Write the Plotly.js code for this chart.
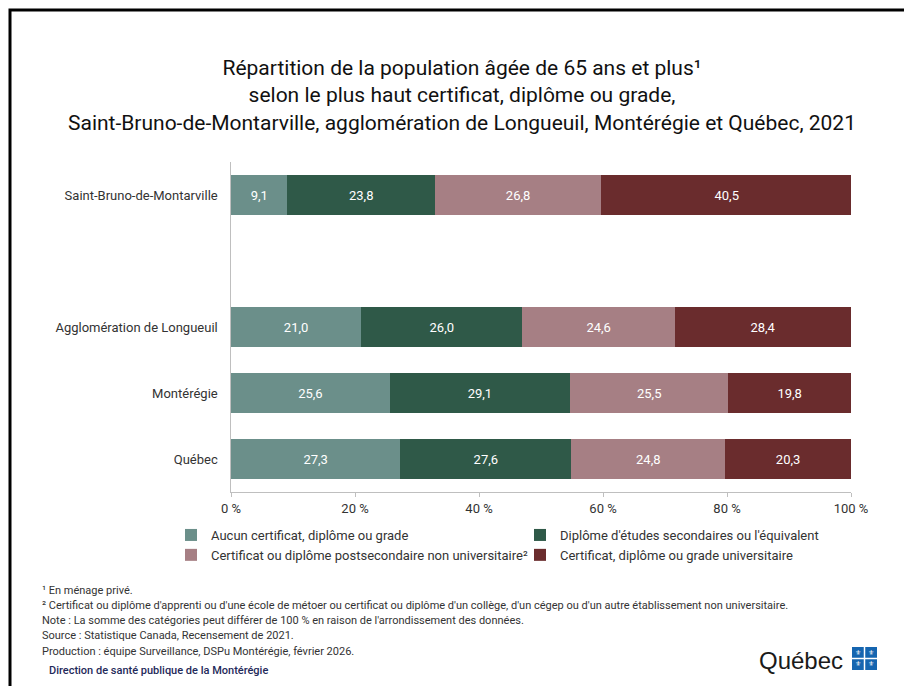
<!DOCTYPE html>
<html>
<head>
<meta charset="utf-8">
<script src="https://cdn.plot.ly/plotly-3.0.1.min.js"></script>
<style>
html,body{margin:0;padding:0;background:#fff;}
#chart{width:904px;height:686px;}
</style>
</head>
<body>
<div id="chart"></div>
<script>
// ---- data ----
const categories = ['Saint-Bruno-de-Montarville', ' ', 'Agglomération de Longueuil', 'Montérégie', 'Québec'];
const regions = ['Saint-Bruno-de-Montarville', 'Agglomération de Longueuil', 'Montérégie', 'Québec'];
const seriesNames = [
  'Aucun certificat, diplôme ou grade',
  "Diplôme d'études secondaires ou l'équivalent",
  'Certificat ou diplôme postsecondaire non universitaire²',
  'Certificat, diplôme ou grade universitaire'
];
const aucun       = [9.1, 21.0, 25.6, 27.3];
const secondaire  = [23.8, 26.0, 29.1, 27.6];
const postsec     = [26.8, 24.6, 25.5, 24.8];
const universite  = [40.5, 28.4, 19.8, 20.3];
const tickVals = [0, 20, 40, 60, 80, 100];
const colors = ['#6B8F8A', '#2F5948', '#A67F84', '#6A2C2D'];

const footnotes = [
  '¹ En ménage privé.',
  "² Certificat ou diplôme d'apprenti ou d'une école de métoer ou certificat ou diplôme d'un collège, d'un cégep ou d'un autre établissement non universitaire.",
  "Note : La somme des catégories peut différer de 100 % en raison de l'arrondissement des données.",
  'Source : Statistique Canada, Recensement de 2021.',
  'Production : équipe Surveillance, DSPu Montérégie, février 2026.'
];

// ---- layout helpers (pixel -> paper) ----
const W = 904, H = 686;
const L = 231, R = 851, T = 162, B = 492;
const px = x => (x - L) / (R - L);
const py = y => (B - y) / (B - T);

const allSeries = [aucun, secondaire, postsec, universite];
const traces = allSeries.map((vals, i) => ({
  type: 'bar',
  orientation: 'h',
  name: seriesNames[i],
  y: regions,
  x: vals,
  marker: {color: colors[i], line: {width: 0}},
  text: vals,
  texttemplate: '%{x:.1f}',
  textposition: 'inside',
  insidetextanchor: 'middle',
  constraintext: 'none',
  textfont: {color: '#ffffff', size: 13, family: 'Roboto, Liberation Sans, sans-serif'},
  hoverinfo: 'none'
}));

const annotations = footnotes.map((t, i) => ({
  text: t, xref: 'paper', yref: 'paper',
  x: px(40), y: py(590 + i * 15.3),
  xanchor: 'left', yanchor: 'middle', showarrow: false,
  font: {size: 11, color: '#333333', family: 'Roboto, Liberation Sans, sans-serif'}
}));
annotations.push({
  text: 'Direction de santé publique de la Montérégie', xref: 'paper', yref: 'paper',
  x: px(47), y: py(670), xanchor: 'left', yanchor: 'middle', showarrow: false,
  font: {size: 11, color: '#1F2A5A', family: 'Roboto, Liberation Sans, sans-serif', weight: 500}
});
annotations.push({
  text: 'Québec', xref: 'paper', yref: 'paper',
  x: px(757), y: py(660), xanchor: 'left', yanchor: 'middle', showarrow: false,
  font: {size: 24, color: '#1a1a1a', family: 'Liberation Sans, Arial, sans-serif'}
});
// fleur-de-lis glyphs
[[858, 653], [871, 653], [858, 664], [871, 664]].forEach(p => annotations.push({
  text: '⚜', xref: 'paper', yref: 'paper', x: px(p[0]), y: py(p[1]),
  xanchor: 'center', yanchor: 'middle', showarrow: false,
  font: {size: 7, color: '#ffffff', family: 'DejaVu Sans'}
}));

const shapes = [
  // frame
  {type: 'path', xref: 'paper', yref: 'paper',
   path: `M ${px(10)},${py(700)} L ${px(10)},${py(10)} L ${px(920)},${py(10)}`,
   line: {color: '#000000', width: 3}},
  // Québec flag
  {type: 'rect', xref: 'paper', yref: 'paper', x0: px(852), x1: px(877), y0: py(670), y1: py(647),
   fillcolor: '#1565B0', line: {width: 0}},
  {type: 'line', xref: 'paper', yref: 'paper', x0: px(864.5), x1: px(864.5), y0: py(670), y1: py(647),
   line: {color: '#ffffff', width: 1.5}},
  {type: 'line', xref: 'paper', yref: 'paper', x0: px(852), x1: px(877), y0: py(658.5), y1: py(658.5),
   line: {color: '#ffffff', width: 1.5}}
];

const layout = {
  width: W, height: H,
  margin: {l: L, r: W - R, t: T, b: H - B, pad: 0},
  paper_bgcolor: '#ffffff', plot_bgcolor: '#ffffff',
  separators: ', ',
  barmode: 'stack',
  bargap: 0.39,
  font: {family: 'Roboto, Liberation Sans, sans-serif', color: '#333333', size: 13},
  title: {
    text: 'Répartition de la population âgée de 65 ans et plus¹<br>selon le plus haut certificat, diplôme ou grade,<br>Saint-Bruno-de-Montarville, agglomération de Longueuil, Montérégie et Québec, 2021',
    x: 462 / W, xref: 'container', xanchor: 'center',
    y: 1 - 75 / H, yref: 'container', yanchor: 'top',
    font: {size: 21, color: '#111111', family: 'Roboto, Liberation Sans, sans-serif'}
  },
  xaxis: {
    range: [0, 100], tickvals: tickVals, ticktext: tickVals.map(v => v + ' %'),
    showgrid: false, zeroline: false, showline: true, linecolor: '#BFBFBF', linewidth: 1,
    ticks: 'outside', ticklen: 4, tickcolor: '#BFBFBF',
    tickfont: {size: 13, color: '#333333'}, fixedrange: true
  },
  yaxis: {
    type: 'category', categoryorder: 'array', categoryarray: categories,
    autorange: 'reversed', showgrid: false, zeroline: false,
    showline: true, linecolor: '#BFBFBF', linewidth: 1, ticks: '',
    ticksuffix: '   ', tickfont: {size: 13, color: '#333333'}, fixedrange: true
  },
  showlegend: true,
  legend: {
    orientation: 'h', traceorder: 'normal',
    x: px(171), xanchor: 'left', y: py(520), yanchor: 'top',
    entrywidth: 304, entrywidthmode: 'pixels',
    font: {size: 13, color: '#333333'}, itemwidth: 30,
    bgcolor: 'rgba(0,0,0,0)'
  },
  annotations: annotations,
  shapes: shapes
};

Plotly.newPlot('chart', traces, layout, {displayModeBar: false, staticPlot: true});
</script>
</body>
</html>
